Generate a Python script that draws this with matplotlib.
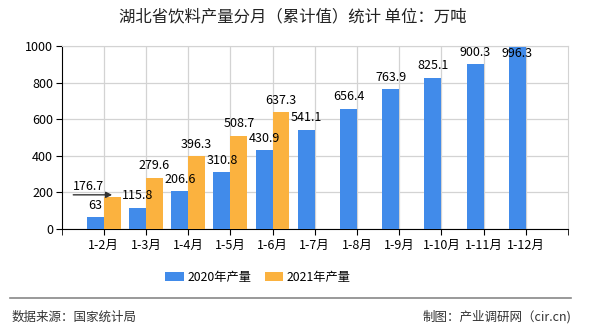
import numpy as np
import matplotlib
matplotlib.use("Agg")
import matplotlib.pyplot as plt

plt.rcParams['font.family'] = ['Noto Sans CJK SC', 'DejaVu Sans']

months = ["1-2月", "1-3月", "1-4月", "1-5月", "1-6月", "1-7月",
          "1-8月", "1-9月", "1-10月", "1-11月", "1-12月"]
prod_2020 = [63, 115.8, 206.6, 310.8, 430.9, 541.1, 656.4, 763.9, 825.1, 900.3, 996.3]
prod_2021 = [176.7, 279.6, 396.3, 508.7, 637.3]

blue = "#418bea"
orange = "#fbb23f"

fig = plt.figure(figsize=(5.9, 3.3), dpi=100)
ax = fig.add_axes([61.5/590, 1-229/330, (568-61.5)/590, (229-46)/330])

x = np.arange(len(months))
w = 0.4
b1 = ax.bar(x[:len(prod_2020)] - w/2, prod_2020, w, color=blue, label="2020年产量", zorder=3)
b2 = ax.bar(x[:len(prod_2021)] + w/2, prod_2021, w, color=orange, label="2021年产量", zorder=3)

ax.set_xlim(-1, len(months))
ax.set_ylim(0, 1000)
ax.set_yticks(range(0, 1001, 200))
ax.set_xticks(x)
ax.set_xticklabels(months)
ax.set_xticks([-1, len(months)], minor=True)
ax.tick_params(axis='x', which='both', direction='out', length=4, labelsize=9, pad=3)
ax.tick_params(axis='y', direction='out', length=4, labelsize=9, pad=2)
ax.grid(True, color="#d3d3d3", linewidth=0.9, zorder=0)
for s in ["top", "right"]:
    ax.spines[s].set_color("#d3d3d3")
for s in ["left", "bottom"]:
    ax.spines[s].set_color("black")

# value labels
for xi, v in zip(x, prod_2020):
    if v > 960:
        ax.annotate(f"{v:g}", (xi - w/2, 1000), xytext=(0, -1), textcoords="offset points",
                    ha="center", va="top", fontsize=9, zorder=5)
    else:
        ax.annotate(f"{v:g}", (xi - w/2, v), xytext=(0, 4), textcoords="offset points",
                    ha="center", va="bottom", fontsize=9, zorder=5)
for i, (xi, v) in enumerate(zip(x, prod_2021)):
    if i == 0:
        # first label pulled to the left with a pointer
        ax.annotate("", (xi + w/2, v + 10), xytext=(-28, 0), textcoords="offset points",
                    arrowprops=dict(arrowstyle="-|>", color="#333333", lw=1.0,
                                    mutation_scale=9, shrinkA=0, shrinkB=0), zorder=5)
        ax.annotate(f"{v:g}", (xi + w/2, v + 10), xytext=(-17, 1), textcoords="offset points",
                    ha="center", va="bottom", fontsize=9, zorder=5)
    else:
        ax.annotate(f"{v:g}", (xi + w/2, v), xytext=(0, 4), textcoords="offset points",
                    ha="center", va="bottom", fontsize=9, zorder=5)

fig.text(293/590, 1-17/330, "湖北省饮料产量分月（累计值）统计 单位：万吨",
         ha="center", va="center", fontsize=11.8, color="#222222")

fig.legend(handles=[b1, b2], loc="center", bbox_to_anchor=(258/590, 1-277/330),
           ncol=2, frameon=False, fontsize=8.8, handlelength=1.5, handleheight=0.8,
           handletextpad=0.3, columnspacing=1.1)

fig.add_artist(plt.Line2D([10/590, 571/590], [1-298/330, 1-298/330],
                          color="#888888", linewidth=1.2, transform=fig.transFigure))
fig.text(12/590, 1-317/330, "数据来源：国家统计局", ha="left", va="center", fontsize=9, color="#333333")
fig.text(571/590, 1-317/330, "制图：产业调研网（cir.cn)", ha="right", va="center", fontsize=9, color="#333333")

fig.savefig("out.png", dpi=100)
